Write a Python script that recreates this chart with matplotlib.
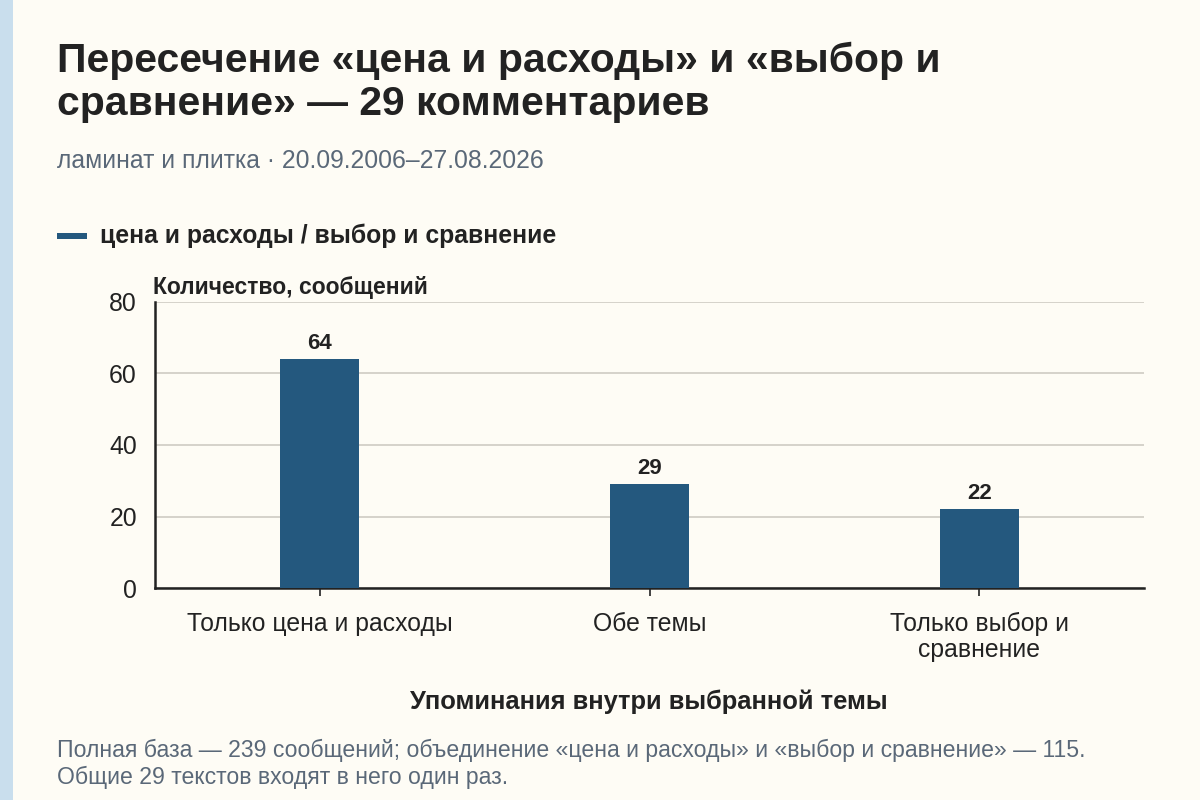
import matplotlib
matplotlib.use('Agg')
import matplotlib.pyplot as plt
from matplotlib.patches import Rectangle

plt.rcParams['font.family'] = ['Liberation Sans', 'DejaVu Sans']

# данные
categories = ['Только цена и расходы', 'Обе темы', 'Только выбор и\nсравнение']
values = [64, 29, 22]
y_ticks = [0, 20, 40, 60, 80]

title_lines = ['Пересечение «цена и расходы» и «выбор и',
               'сравнение» — 29 комментариев']
subtitle = 'ламинат и плитка · 20.09.2006–27.08.2026'
series_name = 'цена и расходы / выбор и сравнение'
y_label = 'Количество, сообщений'
x_label = 'Упоминания внутри выбранной темы'
footer_lines = ['Полная база — 239 сообщений; объединение «цена и расходы» и «выбор и сравнение» — 115.',
                'Общие 29 текстов входят в него один раз.']

BG = '#fefcf5'
BAR = '#24587e'
DARK = '#222222'
GRAY = '#5a6878'

W, H = 1200, 800
fig = plt.figure(figsize=(12, 8), dpi=100, facecolor=BG)


def fy(py):
    return 1 - py / H


def fx(px):
    return px / W


# полоска слева
fig.patches.append(Rectangle((0, 0), fx(13), 1, transform=fig.transFigure,
                             facecolor='#c9deed', edgecolor='none'))

for line, base in zip(title_lines, [72, 115]):
    fig.text(fx(57), fy(base), line, fontsize=29.4, fontweight='bold', color=DARK,
             va='baseline', ha='left')
fig.text(fx(57), fy(168), subtitle, fontsize=17.8, color=GRAY, va='baseline')

# легенда
fig.patches.append(Rectangle((fx(57), fy(239)), fx(30), 6 / H, transform=fig.transFigure,
                             facecolor=BAR, edgecolor='none'))
fig.text(fx(100), fy(243), series_name, fontsize=17.8, fontweight='bold', color=DARK,
         va='baseline')

fig.text(fx(153), fy(294), y_label, fontsize=16.5, fontweight='bold', color=DARK,
         va='baseline')

ax = fig.add_axes([fx(155), fy(588), fx(1144 - 155), (588 - 302) / H])
ax.set_facecolor(BG)
x = range(len(categories))
bars = ax.bar(x, values, width=0.24, color=BAR, zorder=3)
for xi, v in zip(x, values):
    ax.text(xi, v + 1.4, str(v), ha='center', va='bottom', fontsize=16,
            fontweight='bold', color=DARK)

ax.set_xlim(-0.5, len(categories) - 0.5)
ax.set_ylim(0, 80)
ax.set_yticks(y_ticks)
ax.set_xticks(list(x))
ax.set_xticklabels(categories, fontsize=17.8, color=DARK, linespacing=1.15)
ax.tick_params(axis='y', length=0, pad=13, labelsize=17.8, labelcolor=DARK)
ax.tick_params(axis='x', length=6, width=1.2, color=DARK, pad=11)
ax.grid(axis='y', color='#cfcbc3', linewidth=1.2, zorder=0)
for s in ['top', 'right']:
    ax.spines[s].set_visible(False)
for s in ['left', 'bottom']:
    ax.spines[s].set_color(DARK)
    ax.spines[s].set_linewidth(1.8)

fig.text(fx(649), fy(709), x_label, fontsize=18.4, fontweight='bold', color=DARK,
         ha='center', va='baseline')
for line, base in zip(footer_lines, [757, 784]):
    fig.text(fx(57), fy(base), line, fontsize=16.6, color=GRAY, va='baseline')

fig.savefig('out.png', dpi=100, facecolor=BG)
